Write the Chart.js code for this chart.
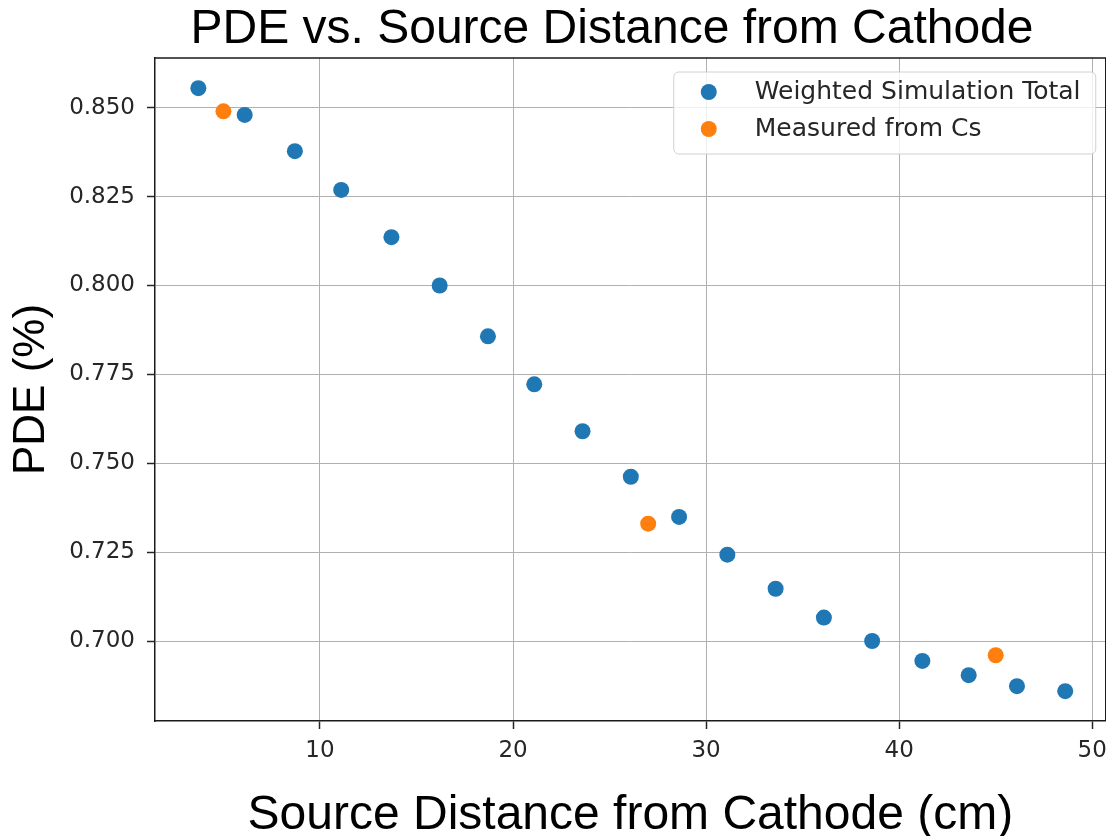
<!DOCTYPE html>
<html>
<head>
<meta charset="utf-8">
<script src="https://cdn.jsdelivr.net/npm/chart.js@4.4.0/dist/chart.umd.min.js"></script>
<style>
  html, body { margin: 0; padding: 0; background: #fff; overflow: hidden; }
  /* the canvas runs a few px past the window so the right spine is cut off */
  #wrap { width: 1106px; height: 836px; overflow: hidden; }
</style>
</head>
<body>
<div id="wrap"><canvas id="pdeChart" width="1115" height="836"></canvas></div>
<script>
// source distance from cathode (cm) vs photon detection efficiency
const simDistance = [3.7, 6.1, 8.7, 11.1, 13.7, 16.2, 18.7, 21.1, 23.6, 26.1, 28.6, 31.1, 33.6, 36.1, 38.6, 41.2, 43.6, 46.1, 48.6];
const simPDE = [0.8555, 0.848, 0.8378, 0.8269, 0.8136, 0.800, 0.7857, 0.7722, 0.759, 0.7462, 0.7349, 0.7243, 0.7147, 0.7066, 0.700, 0.6944, 0.6904, 0.6873, 0.6859];
const csDistance = [5, 27, 45];
const csPDE = [0.849, 0.733, 0.696];
const xTicks = [10, 20, 30, 40, 50];
const yTicks = [0.700, 0.725, 0.750, 0.775, 0.800, 0.825, 0.850];
const chartTitle = 'PDE vs. Source Distance from Cathode';

const toPoints = (xs, ys) => xs.map((x, i) => ({ x: x, y: ys[i] }));

// title sits a little left of the plot centre, so draw it by hand
const figTitle = {
    id: 'figTitle',
    afterDraw(chart) {
        const ctx = chart.ctx;
        ctx.save();
        ctx.font = '48px "Liberation Sans", Arial';
        ctx.fillStyle = '#000';
        ctx.textAlign = 'center';
        ctx.textBaseline = 'alphabetic';
        ctx.fillText(chartTitle, 612, 43);
        ctx.restore();
    }
};

// top and right spines (left/bottom come from the axis borders)
const frame = {
    id: 'frame',
    afterDatasetsDraw(chart) {
        const { ctx, chartArea } = chart;
        ctx.save();
        ctx.strokeStyle = '#1a1a1a';
        ctx.lineWidth = 1.5;
        ctx.beginPath();
        ctx.moveTo(chartArea.left, chartArea.top);
        ctx.lineTo(chartArea.right, chartArea.top);
        ctx.lineTo(chartArea.right, chartArea.bottom);
        ctx.stroke();
        ctx.restore();
    }
};

// matplotlib-style legend box in the upper right of the plot
const insideLegend = {
    id: 'insideLegend',
    afterDraw(chart) {
        const { ctx, chartArea } = chart;
        const w = 422, h = 82, r = 5;
        const x = chartArea.right - 10 - w;
        const y = chartArea.top + 14;
        ctx.save();
        ctx.beginPath();
        ctx.roundRect(x, y, w, h, r);
        ctx.fillStyle = 'rgba(255,255,255,0.8)';
        ctx.fill();
        ctx.strokeStyle = '#d0d0d0';
        ctx.lineWidth = 1;
        ctx.stroke();
        ctx.font = '25px "DejaVu Sans"';
        ctx.textBaseline = 'middle';
        chart.data.datasets.forEach((ds, i) => {
            const cy = y + 20 + i * 37;
            ctx.beginPath();
            ctx.arc(x + 35, cy, 8, 0, Math.PI * 2);
            ctx.fillStyle = ds.backgroundColor;
            ctx.fill();
            ctx.fillStyle = '#262626';
            ctx.fillText(ds.label, x + 81, cy);
        });
        ctx.restore();
    }
};

new Chart(document.getElementById('pdeChart'), {
    type: 'scatter',
    data: {
        datasets: [
            {
                label: 'Weighted Simulation Total',
                data: toPoints(simDistance, simPDE),
                backgroundColor: '#1f77b4',
                borderWidth: 0,
                pointRadius: 8
            },
            {
                label: 'Measured from Cs',
                data: toPoints(csDistance, csPDE),
                backgroundColor: '#ff7f0e',
                borderWidth: 0,
                pointRadius: 8
            }
        ]
    },
    options: {
        responsive: false,
        animation: false,
        devicePixelRatio: 1,
        layout: { padding: { top: 58, left: 0, right: 0, bottom: 0 } },
        plugins: {
            legend: { display: false },
            tooltip: { enabled: false },
            title: { display: false }
        },
        scales: {
            x: {
                type: 'linear',
                min: 1.455,
                max: 50.70,
                afterFit(scale) { scale.height = 115; },
                afterBuildTicks(scale) { scale.ticks = xTicks.map(v => ({ value: v })); },
                ticks: {
                    color: '#262626',
                    font: { family: '"DejaVu Sans"', size: 23 },
                    padding: 8,
                    maxRotation: 0,
                    callback: v => String(v)
                },
                grid: {
                    color: '#b0b0b0',
                    lineWidth: 1,
                    tickColor: '#262626',
                    tickLength: 8,
                    tickWidth: 1.5
                },
                border: { color: '#1a1a1a', width: 1.5 },
                title: {
                    display: true,
                    text: 'Source Distance from Cathode (cm)',
                    color: '#000',
                    font: { family: '"Liberation Sans", Arial', size: 48, lineHeight: 0.8 },
                    padding: { top: 0, bottom: 1 }
                }
            },
            y: {
                type: 'linear',
                min: 0.6775,
                max: 0.864,
                afterFit(scale) { scale.width = 155; },
                afterBuildTicks(scale) { scale.ticks = yTicks.map(v => ({ value: v })); },
                ticks: {
                    color: '#262626',
                    font: { family: '"DejaVu Sans"', size: 23 },
                    padding: 12,
                    callback: v => v.toFixed(3)
                },
                grid: {
                    color: '#b0b0b0',
                    lineWidth: 1,
                    tickColor: '#262626',
                    tickLength: 8,
                    tickWidth: 1.5
                },
                border: { color: '#1a1a1a', width: 1.5 },
                title: {
                    display: true,
                    text: 'PDE (%)',
                    color: '#000',
                    font: { family: '"Liberation Sans", Arial', size: 44 },
                    padding: { top: 5, bottom: 0 }
                }
            }
        }
    },
    plugins: [frame, insideLegend, figTitle]
});
</script>
</body>
</html>
